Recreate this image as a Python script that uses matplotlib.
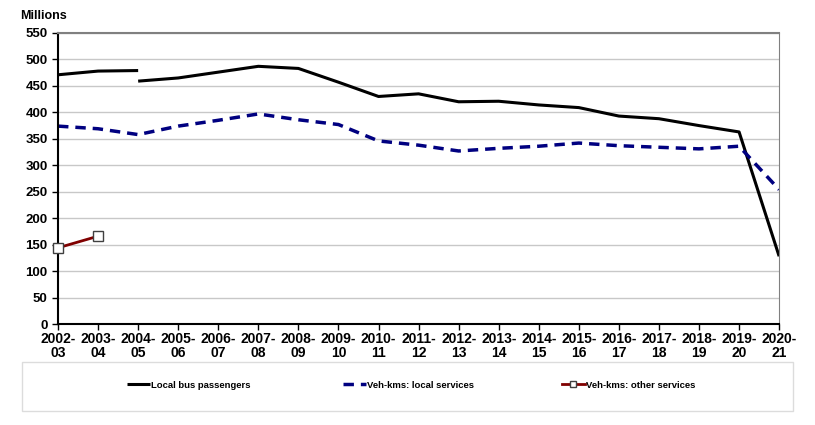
import matplotlib.pyplot as plt
import numpy as np
from matplotlib.patches import Rectangle

years = ['2002-\n03', '2003-\n04', '2004-\n05', '2005-\n06', '2006-\n07', '2007-\n08',
         '2008-\n09', '2009-\n10', '2010-\n11', '2011-\n12', '2012-\n13', '2013-\n14',
         '2014-\n15', '2015-\n16', '2016-\n17', '2017-\n18', '2018-\n19', '2019-\n20',
         '2020-\n21']
nan = np.nan
# passenger series has a break in 2004-05
passengers_old = [471, 478, 479] + [nan] * 16
passengers_new = [nan, nan, 459, 465, 476, 487, 483, 457, 430, 435, 420, 421, 414,
                  409, 393, 388, 375, 363, 128]
vehkm_local = [374, 369, 358, 374, 385, 397, 386, 377, 346, 338, 327, 332, 336, 342,
               337, 334, 331, 336, 254]
vehkm_other = [144, 166] + [nan] * 17

plt.rcParams['font.family'] = ['Liberation Sans', 'DejaVu Sans']

fig = plt.figure(figsize=(8.15, 4.25), dpi=100)
ax = fig.add_axes([0.0712, 0.2376, 0.8848, 0.6848])
x = np.arange(len(years))

ax.plot(x, passengers_old, color='black', lw=2.2, solid_capstyle='butt')
l1, = ax.plot(x, passengers_new, color='black', lw=2.2, solid_capstyle='butt',
              label='Local bus passengers')
l2, = ax.plot(x, vehkm_local, color='#000080', lw=2.5, dashes=(3, 2),
              label='Veh-kms: local services')
l3, = ax.plot(x, vehkm_other, color='#800000', lw=2, marker='s', ms=6.5,
              mfc='white', mec='#404040', mew=1, label='Veh-kms: other services',
              clip_on=False, zorder=5)

ax.set_xlim(0, len(years) - 1)
ax.set_ylim(0, 550)
ax.set_yticks(range(0, 551, 50))
ax.set_xticks(x)
ax.set_xticklabels(years, fontsize=10, fontweight='bold', linespacing=0.95)
for t in ax.get_yticklabels():
    t.set_fontsize(9.5)
    t.set_fontweight('bold')
ax.yaxis.grid(True, color='#c8c8c8', lw=1)
ax.set_axisbelow(True)
ax.tick_params(axis='both', direction='out', length=4, width=1, colors='black')
ax.tick_params(axis='x', pad=2)
ax.spines['left'].set_color('black')
ax.spines['bottom'].set_color('black')
ax.spines['left'].set_linewidth(1.5)
ax.spines['bottom'].set_linewidth(1.5)
ax.spines['top'].set_color('#808080')
ax.spines['right'].set_color('#808080')
ax.spines['top'].set_linewidth(1.5)

fig.text(20 / 815, 1 - 16 / 425, 'Millions', fontsize=9, fontweight='bold', va='center')

fig.patches.append(Rectangle((22 / 815, 1 - 411 / 425), 771 / 815, 49 / 425,
                             transform=fig.transFigure, fill=False,
                             edgecolor='#dcdcdc', lw=1))
# three legend entries placed like the original
for h, xpos in zip([l1, l2, l3], [127, 343, 562]):
    fig.legend(handles=[h], loc='center left',
               bbox_to_anchor=(xpos / 815, 1 - 385 / 425), frameon=False,
               prop={'weight': 'bold', 'size': 6.8}, markerscale=0.6,
               handlelength=2.4, handletextpad=0.15, borderaxespad=0,
               borderpad=0)

fig.savefig('out.png', dpi=100)
